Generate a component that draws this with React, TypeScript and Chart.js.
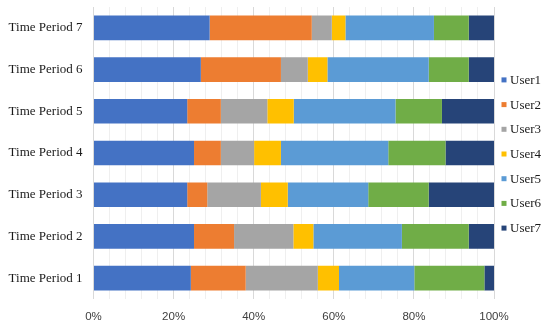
import React, { useEffect, useRef } from "react";
import { Chart, registerables } from "chart.js";

Chart.register(...registerables);

const categories = [
  "Time Period 1",
  "Time Period 2",
  "Time Period 3",
  "Time Period 4",
  "Time Period 5",
  "Time Period 6",
  "Time Period 7",
];

const seriesNames = ["User1", "User2", "User3", "User4", "User5", "User6", "User7"];
const seriesColors = ["#4472C4", "#ED7D31", "#A5A5A5", "#FFC000", "#5B9BD5", "#70AD47", "#264478"];

// percentage shares per time period (1..7)
const user1 = [24.3, 25.1, 23.4, 25.1, 23.4, 26.8, 29.0];
const user2 = [13.7, 10.0, 5.0, 6.7, 8.4, 20.0, 25.5];
const user3 = [18.0, 14.8, 13.4, 8.3, 11.6, 6.7, 5.0];
const user4 = [5.3, 5.0, 6.7, 6.7, 6.6, 4.9, 3.4];
const user5 = [18.8, 22.1, 20.1, 26.8, 25.4, 25.3, 22.1];
const user6 = [17.5, 16.7, 15.1, 14.3, 11.6, 10.0, 8.7];
const user7 = [2.4, 6.3, 16.3, 12.1, 13.0, 6.3, 6.3];

const seriesValues = [user1, user2, user3, user4, user5, user6, user7];

const xTickLabels = ["0%", "20%", "40%", "60%", "80%", "100%"];

const SERIF = "'Liberation Serif', 'DejaVu Serif', serif";
const SANS = "'Liberation Sans', Arial, sans-serif";

const legendPlugin = {
  id: "sideLegend",
  afterDraw(chart: any) {
    const ctx = chart.ctx;
    const area = chart.chartArea;
    const datasets = chart.data.datasets;
    const n = datasets.length;
    const spacing = 24.7;
    const cy = 154;
    ctx.save();
    ctx.font = `13px ${SERIF}`;
    ctx.textBaseline = "middle";
    ctx.textAlign = "left";
    for (let i = 0; i < n; i++) {
      const y = cy + (i - (n - 1) / 2) * spacing;
      const x = area.right + 7.5;
      ctx.fillStyle = datasets[i].backgroundColor;
      ctx.fillRect(x, y - 2.5, 5, 5);
      ctx.fillStyle = "#1a1a1a";
      ctx.fillText(datasets[i].label, x + 8.5, y + 0.5);
    }
    ctx.restore();
  },
};

export default function App() {
  const canvasRef = useRef<HTMLCanvasElement | null>(null);

  useEffect(() => {
    document.body.style.margin = "0";
    const canvas = canvasRef.current;
    if (!canvas) return;
    const chart = new Chart(canvas, {
      type: "bar",
      data: {
        labels: categories,
        datasets: seriesNames.map((name, i) => ({
          label: name,
          data: seriesValues[i],
          backgroundColor: seriesColors[i],
          borderWidth: 0,
          barPercentage: 0.59,
          categoryPercentage: 1,
        })),
      },
      options: {
        indexAxis: "y",
        animation: false,
        responsive: false,
        maintainAspectRatio: false,
        layout: { padding: { left: 0, right: 56, top: 7, bottom: 0 } },
        plugins: {
          legend: { display: false },
          tooltip: { enabled: false },
        },
        scales: {
          x: {
            stacked: true,
            min: 0,
            max: 100,
            border: { display: false },
            grid: {
              drawTicks: false,
              color: (c: any) => (c.tick && c.tick.value % 20 === 0 ? "#d9d9d9" : "#efefef"),
              lineWidth: 1,
            },
            ticks: {
              stepSize: 4,
              autoSkip: false,
              maxRotation: 0,
              padding: 11,
              color: "#404040",
              font: { family: SANS, size: 11.5 },
              callback: (v: any) => {
                const n = Number(v);
                return n % 20 === 0 ? xTickLabels[n / 20] : "";
              },
            },
            afterFit: (scale: any) => {
              scale.height = 33;
            },
          },
          y: {
            stacked: true,
            reverse: true,
            border: { display: false },
            grid: { display: false, drawTicks: false },
            ticks: {
              padding: 11,
              color: "#1a1a1a",
              font: { family: SERIF, size: 13 },
            },
            afterFit: (scale: any) => {
              scale.width = 93.5;
              scale.paddingTop = 0;
              scale.paddingBottom = 0;
            },
          },
        },
      },
      plugins: [legendPlugin],
    } as any);
    return () => chart.destroy();
  }, []);

  return (
    <div style={{ width: 550, height: 332 }}>
      <canvas ref={canvasRef} width={550} height={332} style={{ display: "block", width: 550, height: 332 }} />
    </div>
  );
}
